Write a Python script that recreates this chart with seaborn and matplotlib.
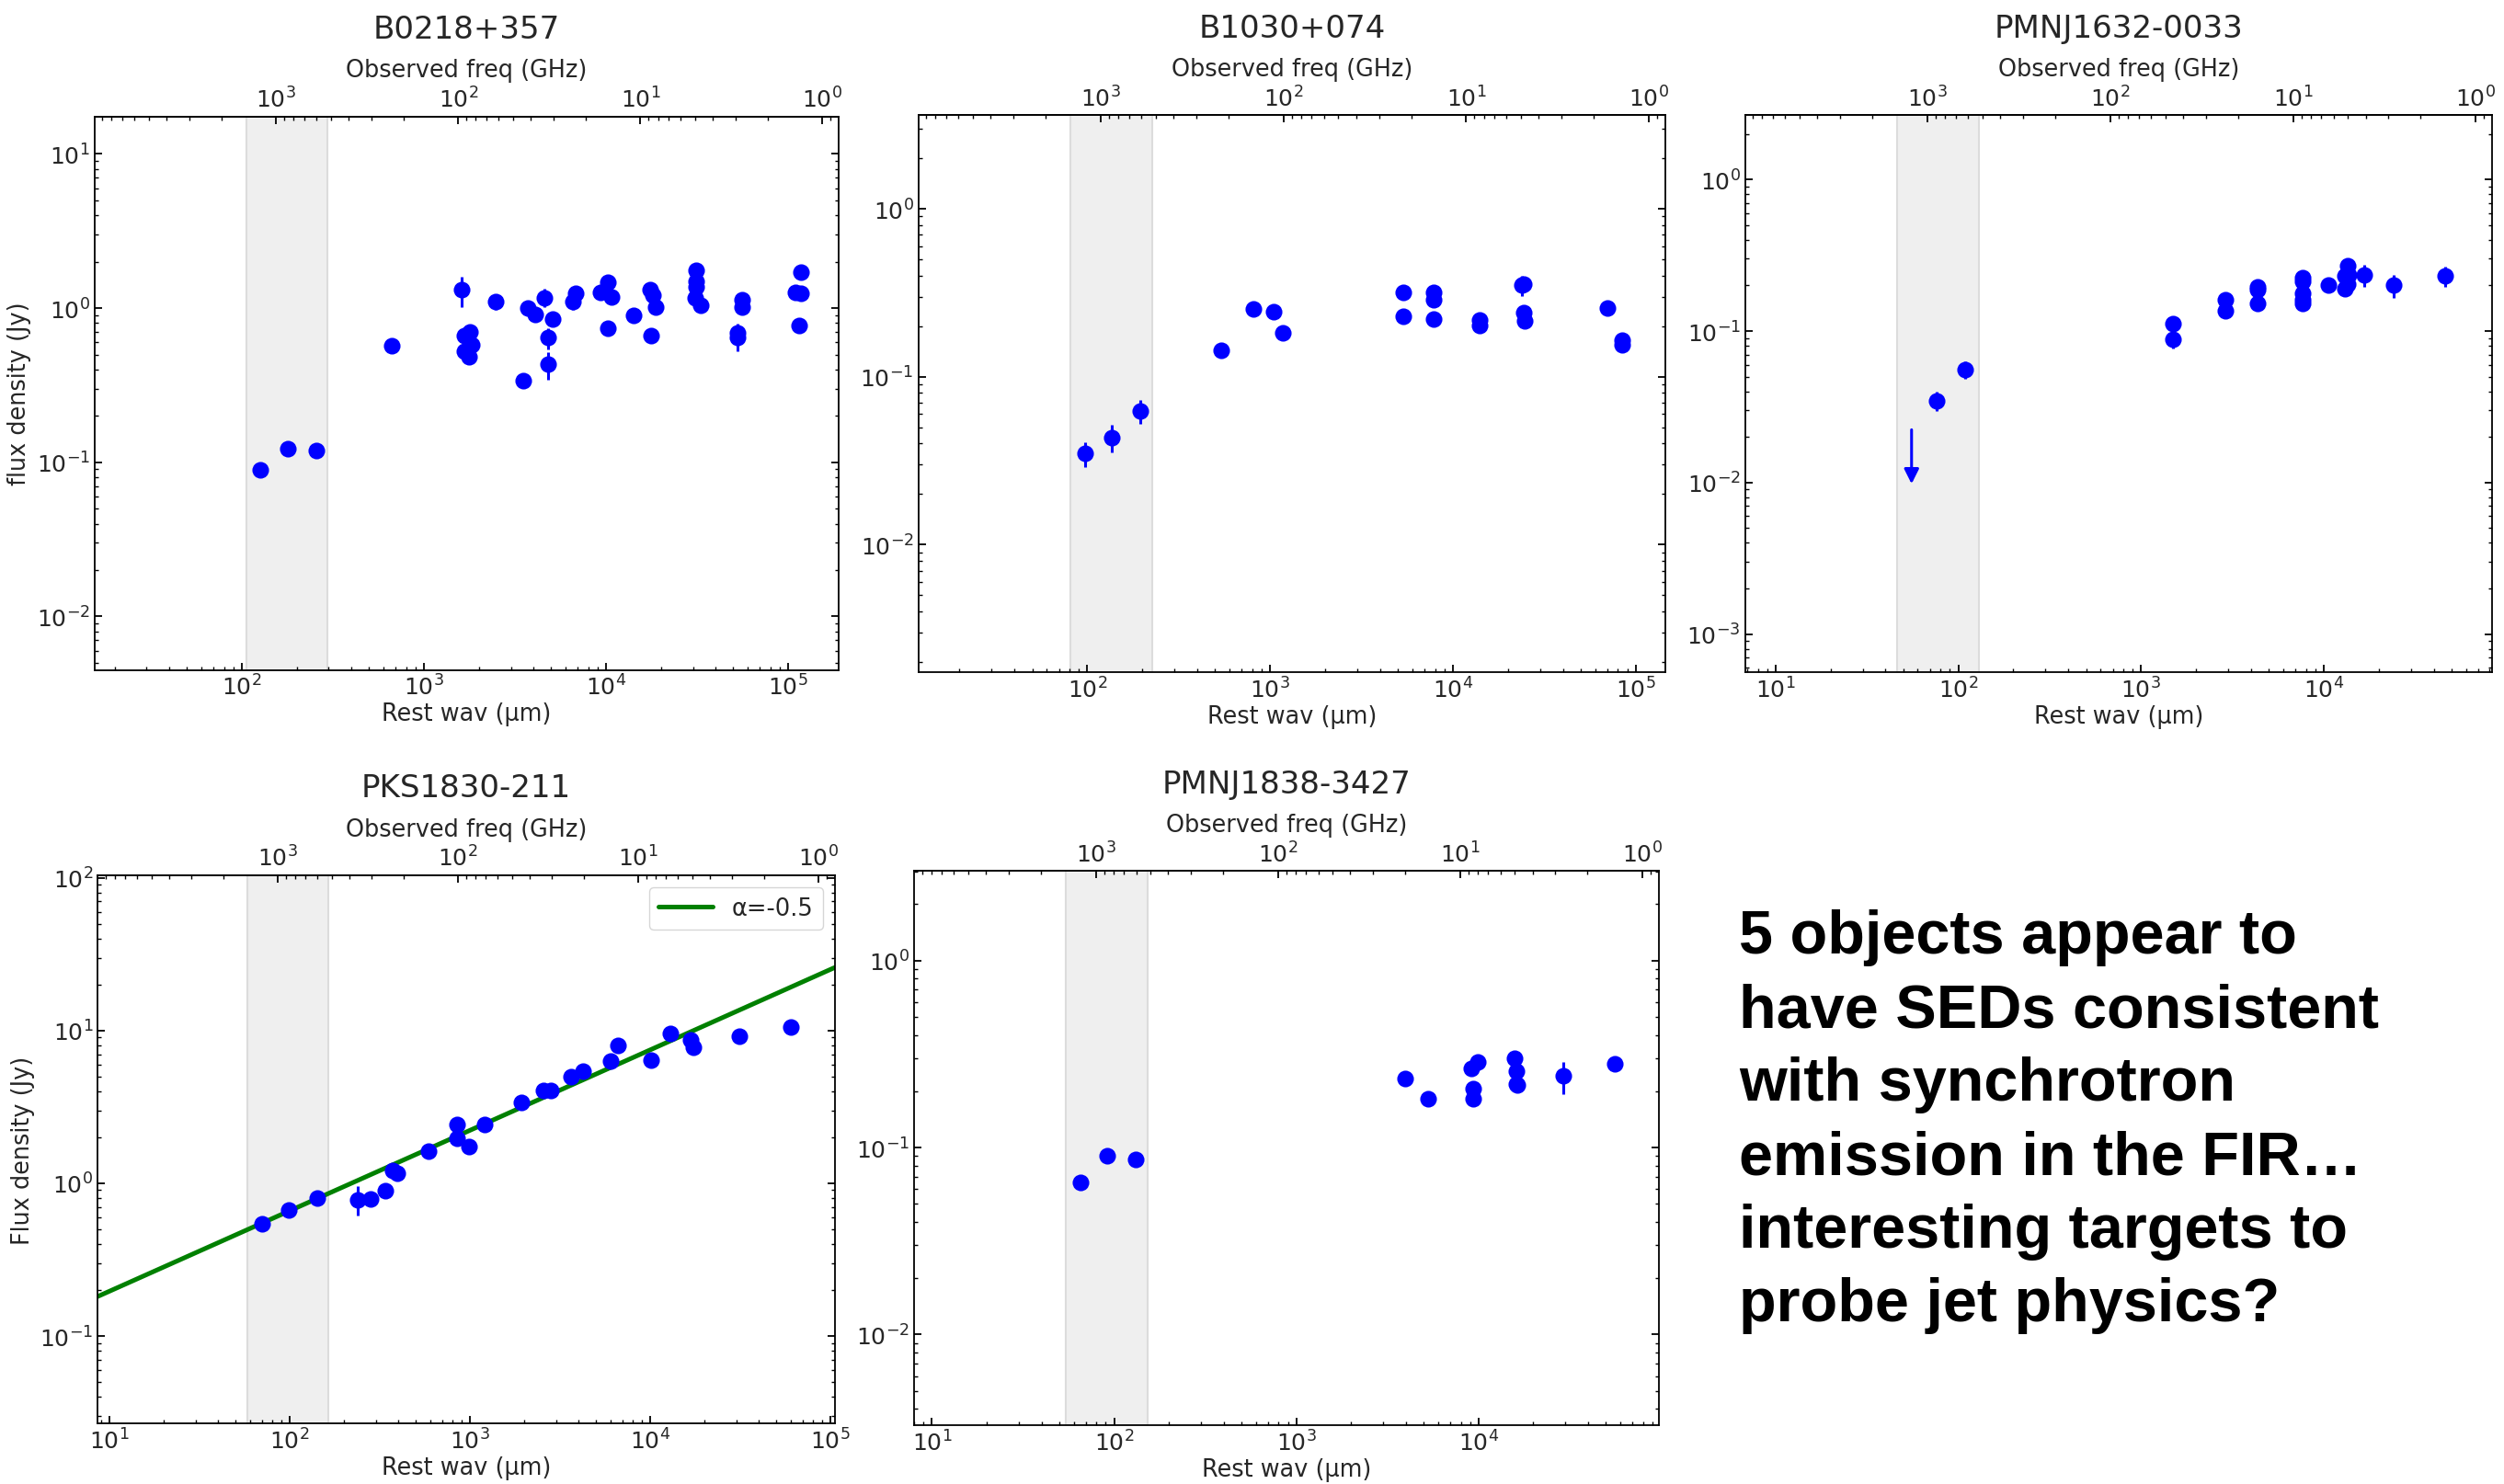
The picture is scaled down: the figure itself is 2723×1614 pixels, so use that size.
import numpy as np
import pandas as pd
import matplotlib
matplotlib.use("Agg")
import matplotlib.pyplot as plt
import seaborn as sns

sns.set_style("ticks")
plt.rcParams["font.family"] = ["DejaVu Sans"]
plt.rcParams["mathtext.fontset"] = "dejavusans"

C_UM_GHZ = 299792.458

names = ["B0218+357", "B1030+074", "PMNJ1632-0033", "PKS1830-211", "PMNJ1838-3427"]
redshifts = [0.944, 1.535, 3.424, 2.507, 2.78]
shade_obs_um = [205, 575]
obs_freq_range_ghz = [9950, 0.81]
ylabels = ["flux density (Jy)", "", "", "Flux density (Jy)", ""]

# ---- B0218+357 ----
b0218_wav = [126, 179, 255, 662, 1611, 1663, 1782, 1663, 1832, 1758, 2489, 3508, 3727, 4103,
             4603, 4830, 4830, 5070, 6560, 6790, 9310, 10170, 10170, 10740, 14200, 17540,
             18150, 17660, 18790, 31330, 31330, 31330, 31000, 33100, 52400, 53000, 56000,
             56000, 109000, 117000, 117000, 115000]
b0218_flux = [0.089, 0.122, 0.119, 0.571, 1.31, 0.66, 0.70, 0.525, 0.574, 0.482, 1.10, 0.34,
              1.00, 0.906, 1.17, 0.643, 0.431, 0.845, 1.10, 1.25, 1.27, 1.46, 0.745, 1.18,
              0.90, 1.31, 1.22, 0.666, 1.01, 1.75, 1.49, 1.38, 1.17, 1.04, 0.695, 0.647,
              1.13, 1.02, 1.26, 1.25, 1.70, 0.77]
b0218_err = [0, 0, 0, 0, 0.29, 0, 0, 0, 0, 0.05, 0.13, 0, 0, 0, 0.16, 0.10, 0.09, 0, 0.12,
             0.08, 0, 0, 0, 0, 0, 0, 0, 0, 0, 0, 0, 0, 0, 0, 0.10, 0.12, 0, 0, 0, 0, 0, 0]

# ---- B1030+074 ----
b1030_wav = [97.3, 136, 194, 541, 809, 1050, 1178, 5370, 5370, 7870, 7870, 7870, 14060,
             14060, 23990, 24400, 24400, 24800, 70100, 84400, 84400]
b1030_flux = [0.0348, 0.0436, 0.0625, 0.143, 0.254, 0.244, 0.183, 0.318, 0.229, 0.319,
              0.287, 0.221, 0.218, 0.203, 0.351, 0.356, 0.241, 0.216, 0.257, 0.164, 0.155]
b1030_err = [0.006, 0.008, 0.01, 0, 0, 0, 0, 0, 0, 0, 0, 0, 0, 0, 0.05, 0, 0, 0, 0, 0, 0]

# ---- PMNJ1632-0033 ----
p1632_wav = [76, 108.6, 1496, 1496, 2886, 2886, 4345, 4345, 4345, 7660, 7660, 7660, 7660,
             7660, 10640, 13420, 13100, 13100, 13500, 13600, 16710, 24150, 46240]
p1632_flux = [0.0348, 0.0557, 0.112, 0.0886, 0.162, 0.136, 0.195, 0.188, 0.153, 0.225, 0.212,
              0.177, 0.162, 0.153, 0.201, 0.271, 0.232, 0.191, 0.205, 0.235, 0.235, 0.201,
              0.232]
p1632_err = [0.005, 0.007, 0, 0.012, 0, 0, 0, 0, 0, 0, 0, 0, 0, 0, 0, 0, 0, 0, 0, 0,
             0.04, 0.035, 0.035]
p1632_uplim_wav = [55.5]
p1632_uplim_flux = [0.0223]
p1632_uplim_tip = [0.0098]

# ---- PKS1830-211 ----
pks_wav = [70.5, 98.9, 141.6, 239, 282, 337, 371, 393, 590, 845, 845, 984, 1211, 1919,
           2545, 2805, 3648, 4217, 6040, 6607, 10070, 12910, 16760, 17340, 31190, 60100]
pks_flux = [0.539, 0.665, 0.798, 0.782, 0.79, 0.894, 1.22, 1.17, 1.62, 2.44, 1.98, 1.74,
            2.41, 3.38, 4.03, 4.03, 4.97, 5.41, 6.35, 7.96, 6.44, 9.55, 8.71, 7.74, 9.16,
            10.6]
pks_err = [0, 0, 0, 0.17, 0.05, 0, 0, 0, 0, 0, 0, 0, 0, 0, 0, 0, 0, 0, 0, 0, 0, 0, 0, 0,
           0, 0]
pks_line_wav = [8.47, 1.05e5]
pks_line_flux = [0.18, 25.8]
pks_line_label = "α=-0.5"

# ---- PMNJ1838-3427 ----
p1838_wav = [65.8, 92, 132, 3954, 5270, 9100, 9940, 9350, 9350, 15800, 16250, 16250, 16400,
             29240, 56200]
p1838_flux = [0.0654, 0.0907, 0.0861, 0.235, 0.182, 0.264, 0.286, 0.207, 0.182, 0.299,
              0.256, 0.218, 0.216, 0.241, 0.281]
p1838_err = [0, 0, 0, 0, 0, 0, 0, 0, 0, 0, 0, 0, 0, 0.047, 0]

panel_data = [
    (b0218_wav, b0218_flux, b0218_err),
    (b1030_wav, b1030_flux, b1030_err),
    (p1632_wav, p1632_flux, p1632_err),
    (pks_wav, pks_flux, pks_err),
    (p1838_wav, p1838_flux, p1838_err),
]
ylims = [(0.0045, 17.5), (0.00174, 3.62), (5.6e-4, 2.67), (0.0267, 104), (0.00327, 3.01)]

# axes positions [left, bottom, width, height] in figure fractions
positions = [
    [0.0377, 0.5482, 0.2974, 0.3728],
    [0.3667, 0.5467, 0.2985, 0.3753],
    [0.6969, 0.5467, 0.2985, 0.3753],
    [0.0390, 0.0407, 0.2944, 0.3693],
    [0.3650, 0.0395, 0.2975, 0.3733],
]

TICK_FS = 18
LABEL_FS = 18.4
TITLE_FS = 24.5

fig = plt.figure(figsize=(27.23, 16.15), dpi=100)

for i in range(5):
    ax = fig.add_axes(positions[i])
    ax.set_xscale("log")
    ax.set_yscale("log")
    z = redshifts[i]
    ax.axvspan(shade_obs_um[0] / (1 + z), shade_obs_um[1] / (1 + z),
               facecolor="#efefef", edgecolor="#dcdcdc", lw=1.5, zorder=0)
    wav, flux, err = panel_data[i]
    df = pd.DataFrame({"wav": wav, "flux": flux, "err": err})
    de = df[df["err"] > 0]
    if len(de):
        ax.errorbar(de["wav"], de["flux"], yerr=de["err"], fmt="none", ecolor="blue",
                    elinewidth=2.2, capsize=0, zorder=2)
    if i == 3:
        sns.lineplot(x=pks_line_wav, y=pks_line_flux, ax=ax, color="green", lw=3.6,
                     label=pks_line_label, zorder=1.5)
    sns.scatterplot(data=df, x="wav", y="flux", ax=ax, color="blue", s=170,
                    linewidth=0, edgecolor="blue", legend=False, zorder=3)
    if i == 2:
        for xw, yt, yb in zip(p1632_uplim_wav, p1632_uplim_flux, p1632_uplim_tip):
            ax.annotate("", xy=(xw, yb), xytext=(xw, yt), xycoords="data",
                        arrowprops=dict(arrowstyle="-|>", color="blue", lw=2.2,
                                        mutation_scale=24, shrinkA=0, shrinkB=0))
    # x limits: rest wavelength matching the observed-frequency range
    ax.set_xlim(C_UM_GHZ / (obs_freq_range_ghz[0] * (1 + z)),
                C_UM_GHZ / (obs_freq_range_ghz[1] * (1 + z)))
    ax.set_ylim(*ylims[i])
    ax.set_xlabel("Rest wav (μm)", fontsize=LABEL_FS, labelpad=2)
    ax.set_ylabel(ylabels[i], fontsize=LABEL_FS)
    ax.tick_params(which="both", direction="in", right=True, top=False,
                   labelsize=TICK_FS, color="black")
    ax.tick_params(which="major", length=6, width=1.3)
    ax.tick_params(which="minor", length=3.2, width=1.0)
    for sp in ax.spines.values():
        sp.set_color("black")
        sp.set_linewidth(1.3)

    f = (lambda zz: (lambda x: C_UM_GHZ / (np.asarray(x, dtype=float) * (1 + zz))))(z)
    sec = ax.secondary_xaxis("top", functions=(f, f))
    sec.set_xlabel("Observed freq (GHz)", fontsize=LABEL_FS, labelpad=8)
    sec.tick_params(which="both", direction="in", labelsize=TICK_FS, color="black")
    sec.tick_params(which="major", length=6, width=1.3)
    sec.tick_params(which="minor", length=3.2, width=1.0)
    sec.spines["top"].set_linewidth(1.3)
    ax.set_title(names[i], fontsize=TITLE_FS, pad=16)

    if i == 3:
        leg = ax.legend(loc="upper right", fontsize=TICK_FS + 0.5, handlelength=2.3,
                        frameon=True, fancybox=True, edgecolor="0.8", borderaxespad=0.5)

fig.text(0.6944, 0.3875,
         "5 objects appear to\nhave SEDs consistent\nwith synchrotron\n"
         "emission in the FIR…\ninteresting targets to\nprobe jet physics?",
         fontsize=48, fontweight="bold", family=["Liberation Sans", "DejaVu Sans"],
         va="top", ha="left", linespacing=1.375, color="black")

fig.savefig("out.png", dpi=100, facecolor="white")
